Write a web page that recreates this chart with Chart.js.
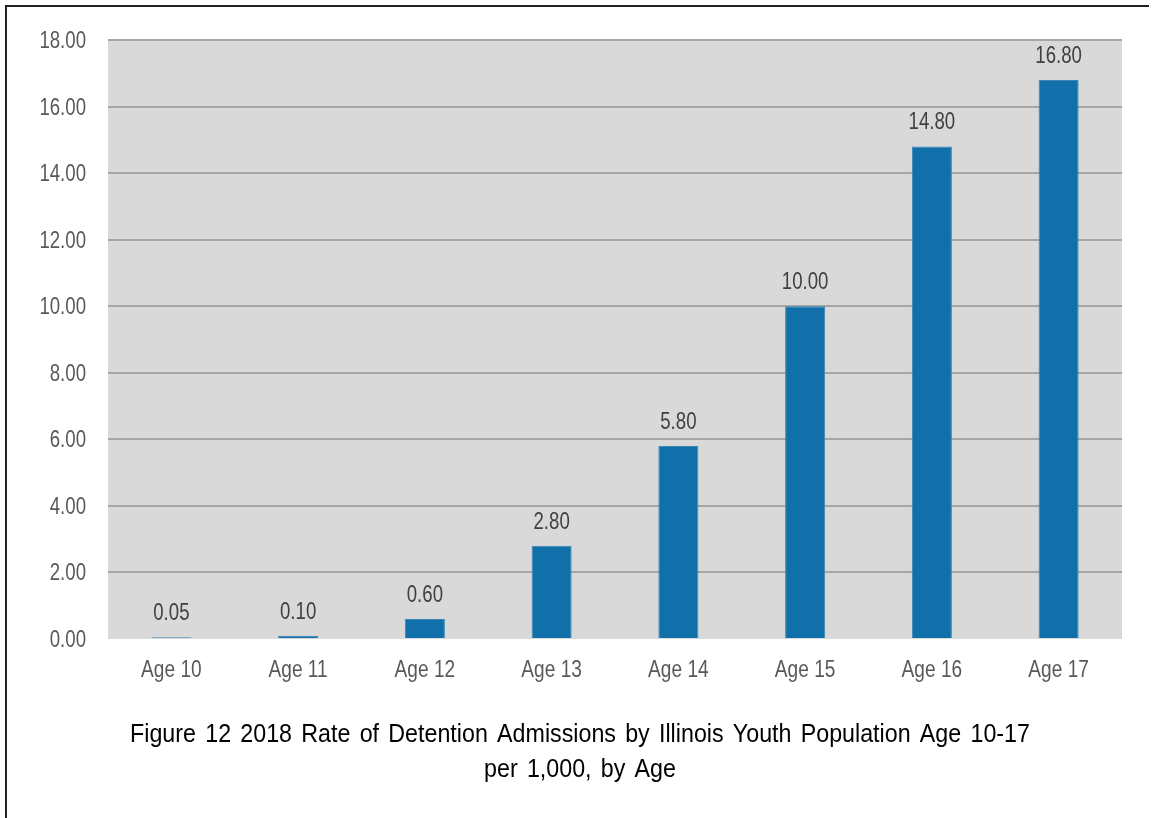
<!DOCTYPE html>
<html>
<head>
<meta charset="utf-8">
<script src="https://cdn.jsdelivr.net/npm/chart.js@4.4.1/dist/chart.umd.min.js"></script>
<style>
  html, body { margin: 0; padding: 0; background: #fff; }
  #wrap { position: relative; width: 1153px; height: 818px; overflow: hidden; }
  #frame {
    position: absolute; left: 5px; top: 5px; width: 1142px; height: 830px;
    border-left: 2px solid #222; border-top: 2px solid #222;
  }
  canvas { position: absolute; left: 0; top: 0; }
</style>
</head>
<body>
<div id="wrap">
  <div id="frame"></div>
  <canvas id="rateChart" width="1153" height="818"></canvas>
</div>
<script>
const ages = ['Age 10', 'Age 11', 'Age 12', 'Age 13', 'Age 14', 'Age 15', 'Age 16', 'Age 17'];
const rates = [0.05, 0.10, 0.60, 2.80, 5.80, 10.00, 14.80, 16.80];
const titleLines = [
  'Figure 12 2018 Rate of Detention Admissions by Illinois Youth Population Age 10-17',
  'per 1,000, by Age'
];

const FONT = '"Liberation Sans", Arial, sans-serif';

// condensed text: squeeze horizontally around the anchor point
function narrowText(ctx, text, x, y, opts) {
  ctx.save();
  ctx.font = opts.size + 'px ' + FONT;
  ctx.fillStyle = opts.color;
  ctx.textAlign = opts.align || 'center';
  ctx.textBaseline = 'alphabetic';
  if (opts.wordSpacing && 'wordSpacing' in ctx) ctx.wordSpacing = opts.wordSpacing;
  ctx.translate(x, y);
  ctx.scale(opts.squeeze, 1);
  ctx.fillText(text, 0, 0);
  ctx.restore();
}

// gray plot background behind the bars
const plotBackground = {
  id: 'plotBackground',
  beforeDraw(chart) {
    const { ctx, chartArea: a } = chart;
    ctx.save();
    ctx.fillStyle = '#d9d9d9';
    ctx.fillRect(a.left, a.top, a.right - a.left, a.bottom - a.top);
    ctx.restore();
  }
};

// axis labels, bar values and caption in a narrow face
const textLayer = {
  id: 'textLayer',
  afterDraw(chart) {
    const { ctx, chartArea: a } = chart;
    const xs = chart.scales.x, ys = chart.scales.y;

    ys.ticks.forEach((t, i) => {
      narrowText(ctx, t.value.toFixed(2), a.left - 22, ys.getPixelForTick(i) + 8,
        { size: 23, color: '#595959', squeeze: 0.81, align: 'right' });
    });

    xs.ticks.forEach((t, i) => {
      narrowText(ctx, ages[i], xs.getPixelForTick(i), a.bottom + 38,
        { size: 23, color: '#595959', squeeze: 0.83 });
    });

    chart.getDatasetMeta(0).data.forEach((bar, i) => {
      narrowText(ctx, rates[i].toFixed(2), bar.x, bar.y - 17,
        { size: 23, color: '#404040', squeeze: 0.81 });
    });

    titleLines.forEach((line, i) => {
      narrowText(ctx, line, 580, a.bottom + 103 + i * 35,
        { size: 25, color: '#000', squeeze: 0.93, wordSpacing: '3px' });
    });
  }
};

new Chart(document.getElementById('rateChart'), {
  type: 'bar',
  data: {
    labels: ages,
    datasets: [{
      data: rates,
      backgroundColor: '#1170aa',
      borderColor: '#3a86b8',
      borderWidth: 1,
      barPercentage: 0.316,
      categoryPercentage: 1
    }]
  },
  options: {
    responsive: false,
    animation: false,
    layout: { padding: { left: 0, right: 31, top: 40, bottom: 119 } },
    plugins: {
      legend: { display: false },
      tooltip: { enabled: false },
      title: { display: false }
    },
    scales: {
      x: {
        afterFit(scale) { scale.height = 60; },
        grid: { display: false },
        border: { display: false },
        ticks: { display: false }
      },
      y: {
        min: 0,
        max: 18,
        afterFit(scale) { scale.width = 108; },
        border: { display: false },
        grid: {
          drawTicks: false,
          lineWidth: 2,
          color: ctx => ctx.tick && ctx.tick.value === 0 ? 'rgba(0,0,0,0)' : '#a6a6a6'
        },
        ticks: { stepSize: 2, display: false }
      }
    }
  },
  plugins: [plotBackground, textLayer]
});
</script>
</body>
</html>
